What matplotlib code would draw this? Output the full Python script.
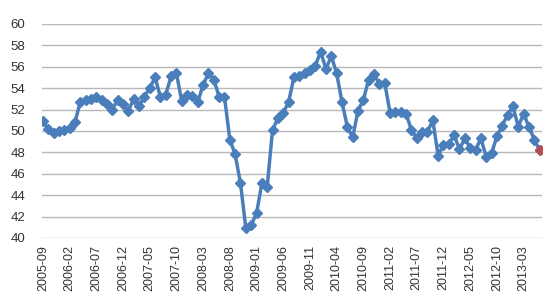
import matplotlib
matplotlib.use("Agg")
import matplotlib.pyplot as plt
import pandas as pd

start_month = "2005-09"
values = [
    50.9, 50.2, 49.8, 50.0, 50.1, 50.3, 50.8, 52.7, 52.9, 53.0,
    53.2, 52.9, 52.5, 52.0, 52.9, 52.5, 51.9, 53.0, 52.3, 53.2,
    54.0, 55.0, 53.2, 53.4, 55.1, 55.4, 52.8, 53.4, 53.3, 52.7,
    54.3, 55.4, 54.8, 53.2, 53.2, 49.2, 47.8, 45.1, 40.9, 41.2,
    42.3, 45.1, 44.8, 50.1, 51.2, 51.7, 52.7, 55.0, 55.1, 55.4,
    55.7, 56.1, 57.4, 55.8, 57.0, 55.4, 52.7, 50.4, 49.4, 51.9,
    52.9, 54.8, 55.3, 54.4, 54.5, 51.7, 51.8, 51.8, 51.6, 50.1,
    49.3, 49.9, 49.9, 51.0, 47.7, 48.7, 48.8, 49.6, 48.3, 49.3,
    48.4, 48.2, 49.3, 47.6, 47.9, 49.5, 50.5, 51.5, 52.3, 50.4,
    51.6, 50.4, 49.2, 48.2,
]
months = pd.period_range(start_month, periods=len(values), freq="M").strftime("%Y-%m").tolist()
label_step = 5
y_ticks = [40, 42, 44, 46, 48, 50, 52, 54, 56, 58, 60]

blue = "#4A7EBB"
red = "#B84B55"

fig = plt.figure(figsize=(5.5, 3.0), dpi=100)
ax = fig.add_axes([0.076, 0.207, 0.909, 0.713])

x = list(range(len(values)))
ax.plot(x, values, color=blue, lw=2.5, marker="D", ms=5.2, mec=blue, mfc=blue, zorder=3)
ax.plot([x[-1]], [values[-1]], ls="none", marker="D", ms=5.5, color=red, zorder=4)

ax.set_ylim(40, 60)
ax.set_yticks(y_ticks)
ax.set_xlim(-0.2, len(values) - 0.6)
ax.set_xticks(x[::label_step])
ax.set_xticklabels(months[::label_step], rotation=90)

ax.grid(axis="y", color="#B8B8B8", lw=1.0)
ax.set_axisbelow(True)
for s in ax.spines.values():
    s.set_visible(False)
ax.tick_params(axis="y", length=0, colors="#333333", labelsize=9.5, pad=12)
ax.tick_params(axis="x", length=0, colors="#333333", labelsize=9, pad=5)
for lab in ax.get_xticklabels() + ax.get_yticklabels():
    lab.set_fontfamily("Liberation Sans")

fig.savefig("out.png", dpi=100, facecolor="white")
